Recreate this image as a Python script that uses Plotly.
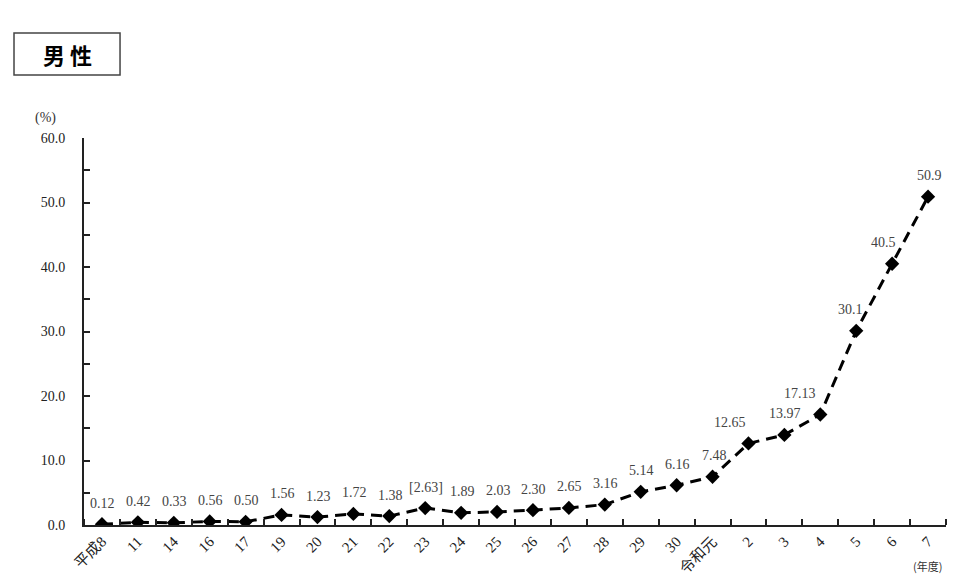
import plotly.graph_objects as go

categories = ["平成8", "11", "14", "16", "17", "19", "20", "21", "22", "23", "24", "25",
              "26", "27", "28", "29", "30", "令和元", "2", "3", "4", "5", "6", "7"]
values = [0.12, 0.42, 0.33, 0.56, 0.50, 1.56, 1.23, 1.72, 1.38, 2.63, 1.89, 2.03,
          2.30, 2.65, 3.16, 5.14, 6.16, 7.48, 12.65, 13.97, 17.13, 30.1, 40.5, 50.9]
labels = ["0.12", "0.42", "0.33", "0.56", "0.50", "1.56", "1.23", "1.72", "1.38", "[2.63]",
          "1.89", "2.03", "2.30", "2.65", "3.16", "5.14", "6.16", "7.48", "12.65", "13.97",
          "17.13", "30.1", "40.5", "50.9"]

# horizontal label shifts (styling)
label_xshift = {"12.65": -18, "17.13": -20, "30.1": -6, "40.5": -9, "7.48": 2}

SERIF = "Liberation Serif, Noto Sans CJK JP, serif"

fig = go.Figure()
fig.add_trace(go.Scatter(
    x=list(range(len(categories))), y=values, mode="lines+markers",
    line=dict(color="black", width=3, dash="11px,7px"),
    marker=dict(symbol="diamond", size=11, color="black"),
    showlegend=False, hoverinfo="skip",
))

annotations = []
for i, (v, t) in enumerate(zip(values, labels)):
    annotations.append(dict(
        x=i, y=v, xref="x", yref="y", text=t, showarrow=False,
        yshift=21, xshift=label_xshift.get(t, 1),
        font=dict(family=SERIF, size=14, color="#444444"),
    ))

annotations.append(dict(xref="paper", yref="paper", x=-0.0452, y=1.0517, text="(%)",
                        showarrow=False, font=dict(family=SERIF, size=14, color="#333333"),
                        xanchor="center", yanchor="middle"))
annotations.append(dict(xref="paper", yref="paper", x=0.979, y=-0.106, text="(年度)",
                        showarrow=False, font=dict(family="Noto Sans CJK JP", size=11, color="#333333"),
                        xanchor="center", yanchor="middle"))
annotations.append(dict(xref="paper", yref="paper", x=-0.0197, y=1.217, text="<b>男 性</b>",
                        showarrow=False, font=dict(family="Noto Sans CJK JP", size=22, color="black"),
                        xanchor="center", yanchor="middle"))

fig.update_layout(
    width=958, height=586,
    margin=dict(l=76, r=20, t=130, b=69),
    paper_bgcolor="white", plot_bgcolor="white",
    annotations=annotations,
    shapes=[dict(type="rect", xref="paper", yref="paper",
                 x0=-0.0812, x1=0.0418, y0=1.1628, y1=1.2713,
                 line=dict(color="#444444", width=1.5), fillcolor="white", layer="below")],
)
fig.update_xaxes(
    tickmode="array", tickvals=list(range(len(categories))), ticktext=categories,
    showgrid=False, zeroline=False, showline=True, linecolor="#222222", linewidth=2,
    ticks="", tickangle=-45, tickfont=dict(family=SERIF, size=15, color="#222222"),
    range=[-0.5, 23.5],
    minor=dict(tickmode="array", tickvals=[i + 0.5 for i in range(-1, len(categories))],
               ticks="inside", ticklen=6, tickcolor="#222222", tickwidth=1.5),
)
fig.update_yaxes(
    range=[0, 60], dtick=10, tickformat=".1f", showgrid=False, zeroline=False,
    showline=True, linecolor="#222222", linewidth=2,
    ticks="inside", ticklen=6, tickcolor="#222222", tickwidth=1.5, ticklabelstandoff=14,
    minor=dict(dtick=5, ticks="inside", ticklen=6, tickcolor="#222222", tickwidth=1.5),
    tickfont=dict(family=SERIF, size=14, color="#222222"),
)
fig.write_html("out.html")
